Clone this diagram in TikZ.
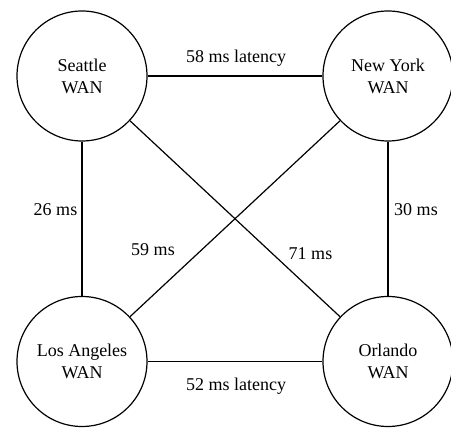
\documentclass[tikz,border=0pt]{standalone}
\usepackage{fontspec}
\setmainfont{Liberation Serif}
\newfontfamily\tms{Liberation Serif}
\begin{document}
\begin{tikzpicture}[x=1pt,y=1pt,
  wan/.style={circle,draw,line width=1.2pt,minimum size=130pt,inner sep=0pt,align=center,
    font=\tms\fontsize{18}{22}\selectfont},
  link/.style={line width=1.2pt},
  lbl/.style={inner sep=0pt,font=\tms\fontsize{18}{22}\selectfont}]
\useasboundingbox (0,0) rectangle (451,428);
\node[wan] (sea) at (82,352) {Seattle\\WAN};
\node[wan] (ny) at (388,352) {New York\\WAN};
\node[wan] (la) at (82,66.5) {Los Angeles\\WAN};
\node[wan] (orl) at (388,66.5) {Orlando\\WAN};
\draw[link] (sea) -- (ny);
\draw[link] (la) -- (orl);
\draw[link] (sea) -- (la);
\draw[link] (ny) -- (orl);
\draw[link] (sea) -- (orl);
\draw[link] (ny) -- (la);
\node[lbl] (l1) at (236,370) {58 ms latency};
\node[lbl] (l2) at (236,42) {52 ms latency};
\node[lbl] (l3) at (55.5,218) {26 ms};
\node[lbl] (l4) at (416,218) {30 ms};
\node[lbl] (l5) at (153,178.5) {59 ms};
\node[lbl] (l6) at (310.5,174.5) {71 ms};
\end{tikzpicture}
\end{document}
